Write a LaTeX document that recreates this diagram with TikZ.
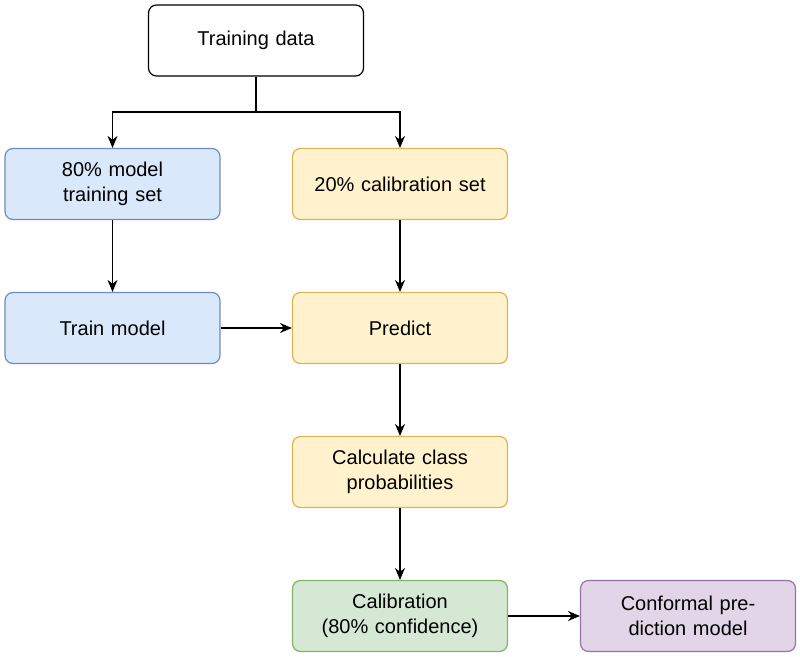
\documentclass[tikz,border=0pt]{standalone}
\usepackage{fontspec}
\setmainfont{Liberation Sans}
\usetikzlibrary{arrows.meta}
\definecolor{bfill}{HTML}{DAE8FC}\definecolor{bdraw}{HTML}{6C8EBF}
\definecolor{yfill}{HTML}{FFF2CC}\definecolor{ydraw}{HTML}{D6B656}
\definecolor{gfill}{HTML}{D5E8D4}\definecolor{gdraw}{HTML}{82B366}
\definecolor{pfill}{HTML}{E1D5E7}\definecolor{pdraw}{HTML}{9673A6}
\begin{document}
\begin{tikzpicture}[x=1pt,y=-1pt,
 box/.style={draw,rounded corners=8pt,minimum width=215pt,minimum height=71pt,align=center,line width=1.2pt,font=\fontsize{20}{25}\selectfont,text width=200pt},
 blue/.style={box,fill=bfill,draw=bdraw},
 yel/.style={box,fill=yfill,draw=ydraw},
 arr/.style={-{Stealth[length=12pt,width=10pt]},line width=1.3pt}]
\useasboundingbox (0,0) rectangle (800,656);
\node[box,fill=white,draw=black] (td) at (256,40.5) {Training data};
\node[blue] (mt) at (112.5,184) {80\% model training set};
\node[yel] (cs) at (400,184) {20\% calibration set};
\node[blue] (tm) at (112.5,328) {Train model};
\node[yel] (pr) at (400,328) {Predict};
\node[yel] (cc) at (400,472) {Calculate class probabilities};
\node[box,fill=gfill,draw=gdraw] (ca) at (400,616) {Calibration\\(80\% confidence)};
\node[box,fill=pfill,draw=pdraw] (cp) at (688,616) {Conformal prediction model};
\coordinate (j) at (256,112);
\draw[line width=1.3pt] (td.south) -- (j);
\draw[arr] (j) -| (mt.north);
\draw[arr] (j) -| (cs.north);
\draw[arr] (mt) -- (tm);
\draw[arr] (cs) -- (pr);
\draw[arr] (tm) -- (pr);
\draw[arr] (pr) -- (cc);
\draw[arr] (cc) -- (ca);
\draw[arr] (ca) -- (cp);
\end{tikzpicture}
\end{document}
